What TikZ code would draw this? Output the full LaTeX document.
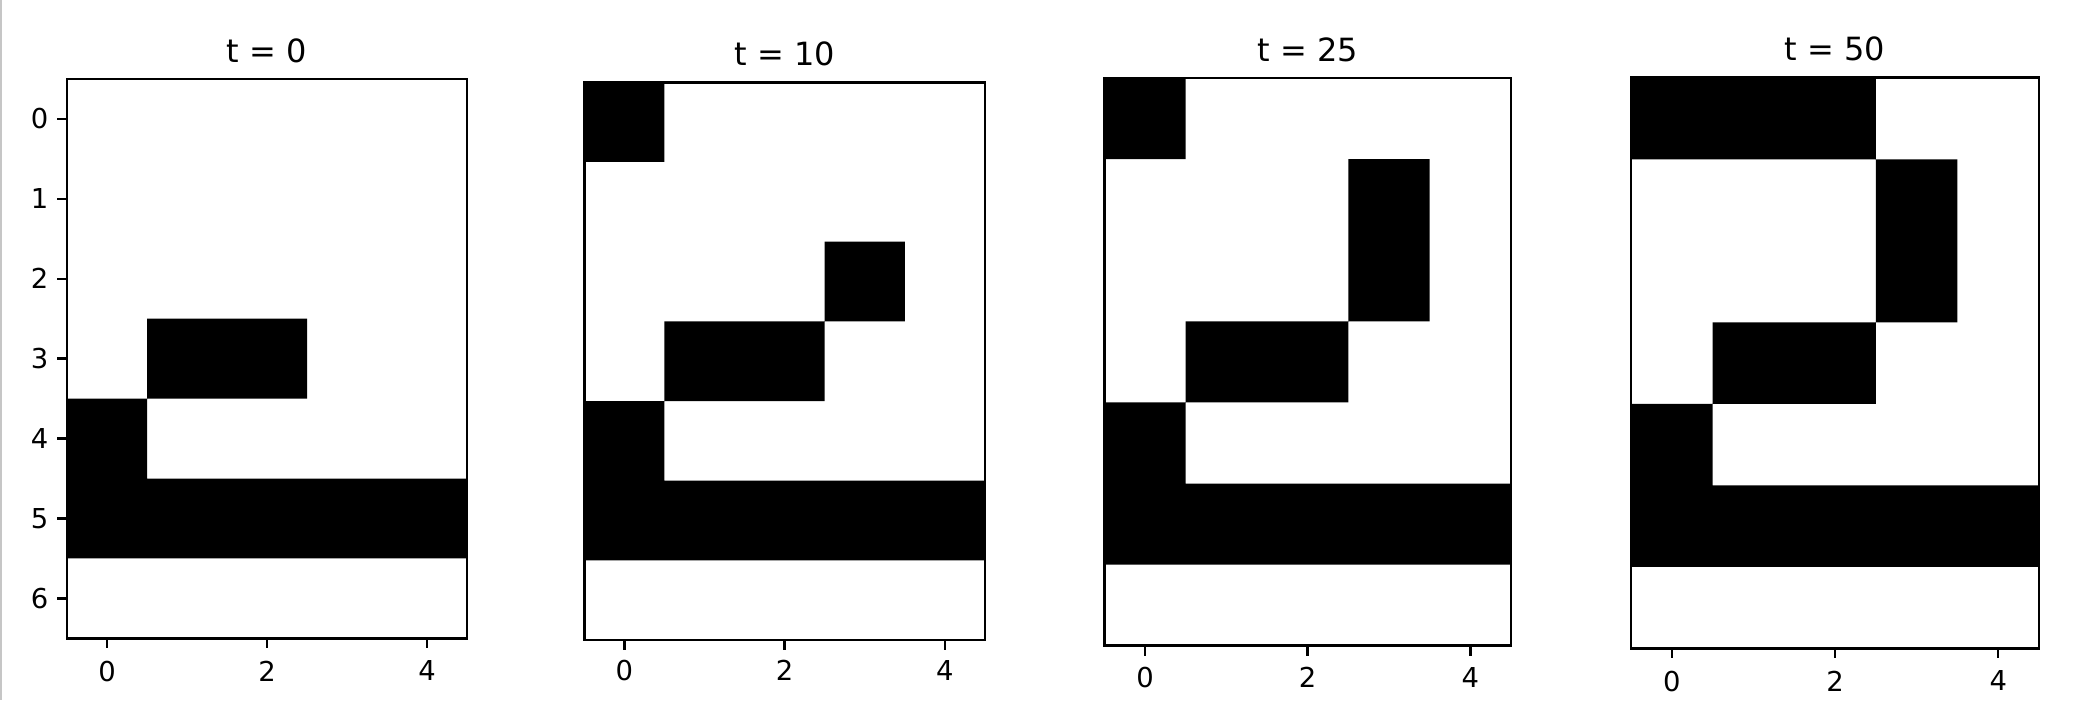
\documentclass[tikz,border=0pt]{standalone}
\usepackage{fontspec}
\setmainfont{DejaVu Sans}
\tikzset{
  frame/.style={line width=1.4pt},
  tick/.style={line width=1.2pt},
  ticklabel/.style={inner sep=0pt, font=\fontsize{13.7}{16}\selectfont},
  paneltitle/.style={inner sep=0pt, anchor=base, yshift=8.5pt, font=\fontsize{16}{19}\selectfont}
}

\begin{document}
\begin{tikzpicture}[x=0.5pt, y=-0.5pt]
    \useasboundingbox (0,0) rectangle (2074,708);
    \draw[gray!45, line width=1pt] (1,0) -- (1,700);

    % t = 0
    \begin{scope}[shift={(67,79)}, x=40pt, y=-39.95pt]
        \fill (1,3) rectangle (3,4) (0,4) rectangle (1,6) (1,5) rectangle (5,6);
        \draw[frame] (0,0) rectangle (5,7);
        \node[paneltitle] (t0) at (2.5,0) {t = 0};
        \foreach \r in {0,...,6} {
            \draw[tick] (0,\r+0.5) -- ++(-5pt,0pt);
            \node[ticklabel, anchor=east, xshift=-9.2pt] (ay\r) at (0,\r+0.5) {\r};
        }
        \foreach \c in {0,2,4} {
            \draw[tick] (\c+0.5,7) -- ++(0pt,-5pt);
            \node[ticklabel, anchor=north, yshift=-11pt] (ax\c) at (\c+0.5,7) {\c};
        }
    \end{scope}

    % t = 10
    \begin{scope}[shift={(584.3,82.3)}, x=40.07pt, y=-39.84pt]
        \fill (0,0) rectangle (1,1) (3,2) rectangle (4,3) (1,3) rectangle (3,4)
              (0,4) rectangle (1,6) (1,5) rectangle (5,6);
        \draw[frame] (0,0) rectangle (5,7);
        \node[paneltitle] (t10) at (2.5,0) {t = 10};
        \foreach \c in {0,2,4} {
            \draw[tick] (\c+0.5,7) -- ++(0pt,-5pt);
            \node[ticklabel, anchor=north, yshift=-10pt] (bx\c) at (\c+0.5,7) {\c};
        }
    \end{scope}

    % t = 25
    \begin{scope}[shift={(1104.3,78)}, x=40.67pt, y=-40.55pt]
        \fill (0,0) rectangle (1,1) (3,1) rectangle (4,3) (1,3) rectangle (3,4)
              (0,4) rectangle (1,6) (1,5) rectangle (5,6);
        \draw[frame] (0,0) rectangle (5,7);
        \node[paneltitle] (t25) at (2.5,0) {t = 25};
        \foreach \c in {0,2,4} {
            \draw[tick] (\c+0.5,7) -- ++(0pt,-5pt);
            \node[ticklabel, anchor=north, yshift=-10.5pt] (cx\c) at (\c+0.5,7) {\c};
        }
    \end{scope}

    % t = 50
    \begin{scope}[shift={(1631,77.8)}, x=40.8pt, y=-40.75pt]
        \fill (0,0) rectangle (3,1) (3,1) rectangle (4,3) (1,3) rectangle (3,4)
              (0,4) rectangle (1,6) (1,5) rectangle (5,6);
        \draw[frame] (0,0) rectangle (5,7);
        \node[paneltitle] (t50) at (2.5,0) {t = 50};
        \foreach \c in {0,2,4} {
            \draw[tick] (\c+0.5,7) -- ++(0pt,-5pt);
            \node[ticklabel, anchor=north, yshift=-11pt] (dx\c) at (\c+0.5,7) {\c};
        }
    \end{scope}
\end{tikzpicture}
\end{document}
